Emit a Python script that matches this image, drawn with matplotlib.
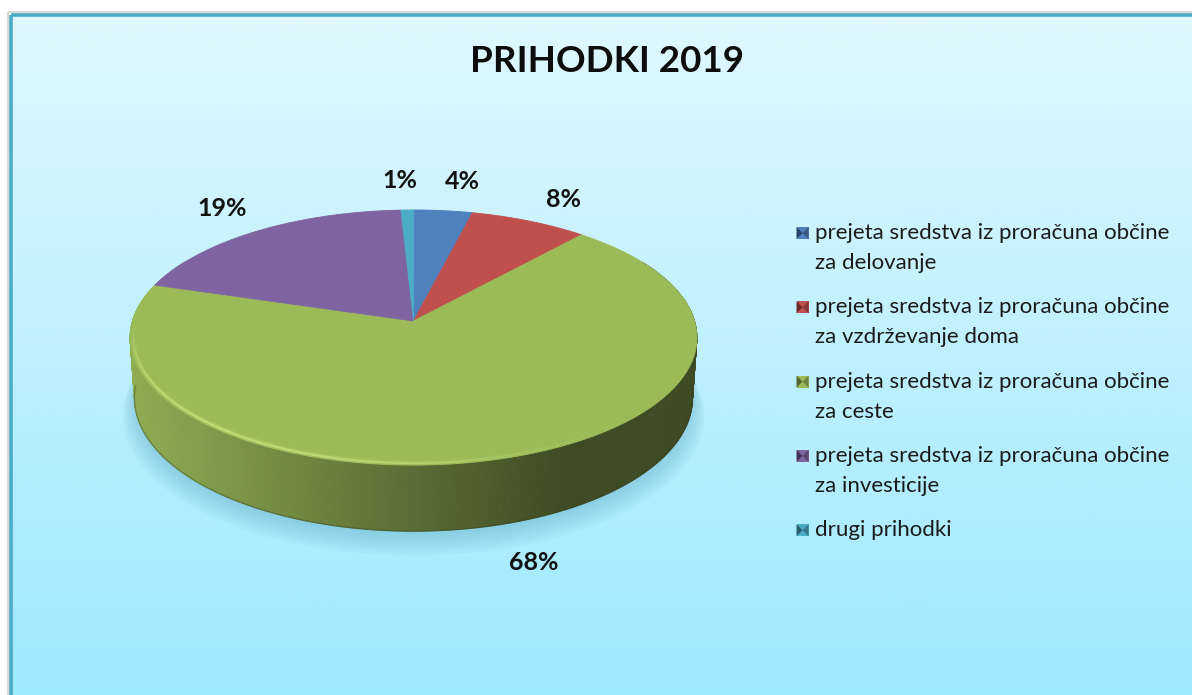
import numpy as np
import matplotlib
matplotlib.use("Agg")
import matplotlib.pyplot as plt
from matplotlib.patches import Polygon, Rectangle
from matplotlib.colors import to_rgb

# ---------------- data ----------------
title = "PRIHODKI 2019"
categories = [
    "prejeta sredstva iz proračuna občine\nza delovanje",
    "prejeta sredstva iz proračuna občine\nza vzdrževanje doma",
    "prejeta sredstva iz proračuna občine\nza ceste",
    "prejeta sredstva iz proračuna občine\nza investicije",
    "drugi prihodki",
]
values = [3.8, 7.6, 68.4, 19.4, 0.8]
colors = ["#4F81BD", "#C0504D", "#9BBB59", "#8064A2", "#4BACC6"]

# ---------------- style / layout ----------------
FONT = ["Lato", "DejaVu Sans"]
W, H = 1192, 695
CX, CY = 413.5, 321.0          # pie centre on screen (px)
F, DIST = 1945.0, 6.92         # perspective focal length & camera distance
PHI = np.deg2rad(26.5)         # elevation
S, C = np.sin(PHI), np.cos(PHI)
HGT = 0.242                    # pie thickness (in radius units)

# label placement (radius factor, height, angular nudge) per slice
label_r = [1.31, 1.26, 1.235, 1.27, 1.31]
label_h = [0.0, 0.0, -HGT, 0.0, 0.0]
label_dth = [2.0, 1.5, -1.5, 0.5, -1.0]


def proj(x, w, yh):
    zc = DIST + w * C - yh * S
    sx = CX + F * x / zc
    sy = CY - F * (w * S + yh * C) / zc
    return sx, sy


def pt(r, theta_deg, yh=0.0):
    t = np.deg2rad(theta_deg)
    return proj(r * np.sin(t), r * np.cos(t), yh)


fig = plt.figure(figsize=(W / 100, H / 100), dpi=100)
fig.patch.set_facecolor("white")
ax = fig.add_axes([0, 0, 1, 1])
ax.set_xlim(0, W)
ax.set_ylim(H, 0)
ax.axis("off")

# background gradient inside the frame
top_c = np.array(to_rgb("#E0F8FE"))
bot_c = np.array(to_rgb("#9DE9FE"))
tt = np.linspace(0, 1, 256)[:, None]
grad = top_c[None, :] * (1 - tt) + bot_c[None, :] * tt
grad = np.repeat(grad[:, None, :], 2, axis=1)
ax.imshow(grad, extent=(11, W + 5, H + 5, 15), aspect="auto", zorder=0)
# faint outer shadow and frame
ax.add_patch(Rectangle((8, 12), W + 20, H + 20, fill=False, ec="#D8D8D8", lw=1.5, zorder=1))
ax.add_patch(Rectangle((10.5, 14.5), W + 20, H + 20, fill=False, ec="#4BACC6", lw=2.6, zorder=2))

# slice angles (clockwise from top)
total = float(sum(values))
cum = np.concatenate([[0], np.cumsum(values)]) / total * 360.0
starts, ends = cum[:-1], cum[1:]


def slice_index(theta):
    th = theta % 360
    for i in range(len(values)):
        if starts[i] <= th < ends[i]:
            return i
    return len(values) - 1


# soft shadow under pie
th_all = np.linspace(0, 360, 361)
for k in range(8):
    rr = 1.0 + 0.006 * k
    xs, ys = pt(rr, th_all, -HGT)
    ys = np.asarray(ys) + 3 + 2.0 * k
    ax.add_patch(Polygon(np.column_stack([xs, ys]), closed=True,
                         fc="#4E9DB8", ec="none", alpha=0.05, zorder=3))

# side wall (front part), shaded strips
step = 0.5
th_side = np.arange(60, 300, step)
for th in th_side:
    i = slice_index(th + step / 2)
    base = np.array(to_rgb(colors[i]))
    x0, y0 = pt(1, th, 0)
    x1, y1 = pt(1, th + step, 0)
    x2, y2 = pt(1, th + step, -HGT)
    x3, y3 = pt(1, th, -HGT)
    sxm = 0.5 * (x0 + x1)
    shade = np.clip(0.92 - (sxm - 130) * 0.00119, 0.40, 0.95)
    col = np.clip(base * shade, 0, 1)
    ax.add_patch(Polygon([(x0, y0), (x1, y1), (x2, y2), (x3, y3)], closed=True,
                         fc=col, ec=col, lw=0.6, zorder=4))

# darker bottom rim of the side
xs, ys = pt(1, np.linspace(92, 268, 200), -HGT)
ax.plot(xs, ys, color="#2E3818", lw=1.0, alpha=0.35, zorder=5)

# top face slices
for i in range(len(values)):
    th = np.linspace(starts[i], ends[i], max(4, int((ends[i] - starts[i]) * 2)))
    xs, ys = pt(1, th, 0)
    poly = np.vstack([[CX, CY], np.column_stack([xs, ys])])
    ax.add_patch(Polygon(poly, closed=True, fc=colors[i], ec=colors[i], lw=0.6, zorder=6))

# rim highlight along the front top edge
th_h = np.linspace(100, 268, 240)
for a, b in zip(th_h[:-1], th_h[1:]):
    m = 0.5 * (a + b)
    xa, ya = pt(0.988, a, 0)
    xb, yb = pt(0.988, b, 0)
    sx = 0.5 * (xa + xb)
    strength = np.clip(1.0 - (sx - 200) / 420.0, 0.0, 1.0)
    strength *= np.clip(np.sin(np.deg2rad((m - 100) / 168 * 180)), 0, 1) ** 0.6
    ax.plot([xa, xb], [ya, yb], color="#CDE97E", lw=4.0, alpha=0.22 * strength,
            solid_capstyle="butt", zorder=7)
    ax.plot([xa, xb], [ya, yb], color="#D6EF8A", lw=1.5, alpha=0.75 * strength,
            solid_capstyle="butt", zorder=7)

# data labels
pcts = [int(round(v / total * 100)) for v in values]
for i in range(len(values)):
    mid = 0.5 * (starts[i] + ends[i]) + label_dth[i]
    lx, ly = pt(label_r[i], mid, label_h[i])
    ax.text(lx, ly, f"{pcts[i]}%", ha="center", va="center", fontsize=18,
            fontweight="bold", family=FONT, color="#111111", zorder=10)

# title
ax.text(607, 62, title, ha="center", va="center", fontsize=26.5, fontweight="bold",
        family=FONT, color="#0D0D0D", zorder=10)

# legend
leg_x_marker, leg_x_text = 802.5, 815
leg_y0, leg_dy, line_dy = 233, 74.3, 30
msz = 6
for i, (lab, col) in enumerate(zip(categories, colors)):
    y = leg_y0 + i * leg_dy
    base = np.array(to_rgb(col))
    mx, my = leg_x_marker, y
    sq = [(mx - msz, my - msz), (mx + msz, my - msz), (mx + msz, my + msz), (mx - msz, my + msz)]
    ax.add_patch(Polygon(sq, closed=True, fc=base, ec="none", zorder=10))
    # bevelled look: darker left / right triangles
    ax.add_patch(Polygon([sq[0], sq[3], (mx, my)], closed=True, fc=base * 0.55, ec="none", zorder=11))
    ax.add_patch(Polygon([sq[1], sq[2], (mx, my)], closed=True, fc=base * 0.7, ec="none", zorder=11))
    for j, line in enumerate(lab.split("\n")):
        ax.text(leg_x_text, y + j * line_dy, line, ha="left", va="center", fontsize=16,
                family=FONT, color="#1A1A1A", zorder=10)

fig.savefig("out.png", dpi=100, facecolor=fig.get_facecolor())
